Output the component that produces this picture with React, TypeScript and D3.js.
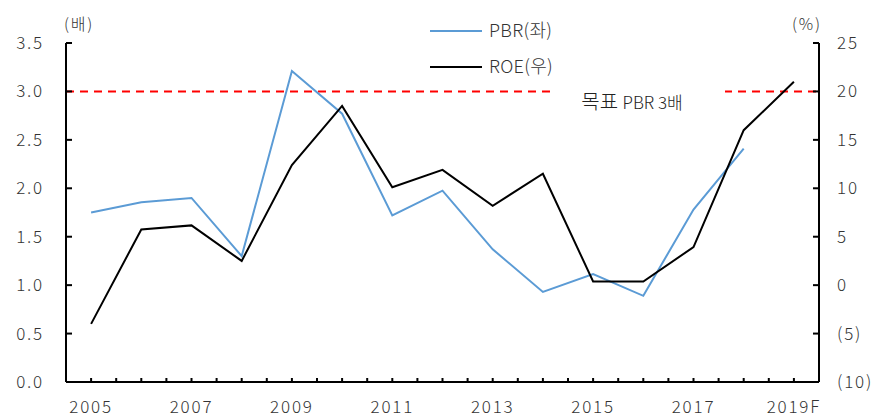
import React from 'react';
import * as d3 from 'd3';

const years = ['2005', '2006', '2007', '2008', '2009', '2010', '2011', '2012', '2013', '2014', '2015', '2016', '2017', '2018', '2019F'];
const yearLabels = ['2005', '2007', '2009', '2011', '2013', '2015', '2017', '2019F'];
const pbr = [1.75, 1.855, 1.9, 1.3, 3.21, 2.77, 1.72, 1.975, 1.37, 0.93, 1.115, 0.89, 1.78, 2.41];
const roe = [-4.0, 5.75, 6.17, 2.5, 12.4, 18.5, 10.1, 11.9, 8.2, 11.5, 0.38, 0.38, 3.93, 16.0, 21.0];
const leftTicks = [0, 0.5, 1, 1.5, 2, 2.5, 3, 3.5];
const rightTicks = [-10, -5, 0, 5, 10, 15, 20, 25];
const targetPbr = 3;

const W = 882;
const H = 418;
const margin = { top: 43, right: 63, bottom: 36, left: 66 };
const font = "'Noto Sans CJK KR', 'Noto Sans', sans-serif";

export default function App() {
  const x = d3.scaleBand().domain(years).range([margin.left, W - margin.right]);
  const cx = (d: string) => (x(d) || 0) + x.bandwidth() / 2;
  const yL = d3.scaleLinear().domain([0, 3.5]).range([H - margin.bottom, margin.top]);
  const yR = d3.scaleLinear().domain([-10, 25]).range([H - margin.bottom, margin.top]);

  const pbrLine = d3.line<number>().x((_, i) => cx(years[i])).y(d => yL(d));
  const roeLine = d3.line<number>().x((_, i) => cx(years[i])).y(d => yR(d));

  const x0 = margin.left;
  const x1 = W - margin.right;
  const yBase = H - margin.bottom;

  // half-band tick positions along the category axis
  const xTicks: number[] = [];
  years.forEach(d => {
    xTicks.push(x(d) || 0);
    xTicks.push(cx(d));
  });
  xTicks.push(x1);

  const yTarget = yL(targetPbr);
  const labelBox = { x: 552, w: 173, y: 73, h: 45 };

  const tickText = { fontFamily: font, fontSize: 17, fontWeight: 300, fill: '#333', letterSpacing: 1.8 } as const;

  return (
    <svg width={W} height={H} style={{ position: 'absolute', left: 0, top: 0, background: '#fff' }}>
      <rect width={W} height={H} fill="#fff" />

      {/* target line */}
      <line x1={x0} x2={x1} y1={yTarget} y2={yTarget} stroke="#ff0000" strokeWidth={2} strokeDasharray="8,6" />

      {/* series */}
      <path d={pbrLine(pbr) || ''} fill="none" stroke="#5b9bd5" strokeWidth={2} />
      <path d={roeLine(roe) || ''} fill="none" stroke="#000" strokeWidth={2} />

      {/* legend */}
      <line x1={430} x2={482} y1={31} y2={31} stroke="#5b9bd5" strokeWidth={2} />
      <text x={489} y={31} dy="0.36em" {...tickText} fontSize={18} letterSpacing={0.3}>PBR(좌)</text>
      <line x1={430} x2={482} y1={67} y2={67} stroke="#000" strokeWidth={2} />
      <text x={489} y={67} dy="0.36em" {...tickText} fontSize={18} letterSpacing={0.3}>ROE(우)</text>

      {/* target label box */}
      <rect x={labelBox.x} y={labelBox.y} width={labelBox.w} height={labelBox.h} fill="#fff" />
      <text x={632} y={103} dy="0.36em" textAnchor="middle" fontFamily={font} fontWeight={300} fill="#222">
        <tspan fontSize={20}>목표 </tspan>
        <tspan fontSize={17}>PBR 3배</tspan>
      </text>

      {/* axes */}
      <line x1={x0} x2={x0} y1={margin.top} y2={yBase} stroke="#000" strokeWidth={2} />
      <line x1={x1} x2={x1} y1={margin.top} y2={yBase} stroke="#000" strokeWidth={2} />
      <line x1={x0} x2={x1} y1={yBase} y2={yBase} stroke="#000" strokeWidth={2} />

      {leftTicks.map(t => (
        <g key={'l' + t}>
          <line x1={x0} x2={x0 + 6} y1={yL(t)} y2={yL(t)} stroke="#000" strokeWidth={2} />
          <text x={44} y={yL(t)} dy="0.35em" textAnchor="end" {...tickText}>{t.toFixed(1)}</text>
        </g>
      ))}
      {rightTicks.map(t => (
        <g key={'r' + t}>
          <line x1={x1 - 6} x2={x1} y1={yR(t)} y2={yR(t)} stroke="#000" strokeWidth={2} />
          <text x={837} y={yR(t)} dy="0.35em" {...tickText}>{t < 0 ? `(${-t})` : t}</text>
        </g>
      ))}
      {xTicks.map((t, i) => (
        <line key={'x' + i} x1={t} x2={t} y1={yBase} y2={yBase - 4} stroke="#000" strokeWidth={2} />
      ))}
      {yearLabels.map(d => (
        <text key={d} x={cx(d)} y={413} textAnchor="middle" {...tickText}>{d}</text>
      ))}

      {/* unit labels */}
      <text x={64} y={24} dy="0.35em" {...tickText} fontSize={16}>(배)</text>
      <text x={792} y={24} dy="0.35em" {...tickText} fontSize={16}>(%)</text>
    </svg>
  );
}
